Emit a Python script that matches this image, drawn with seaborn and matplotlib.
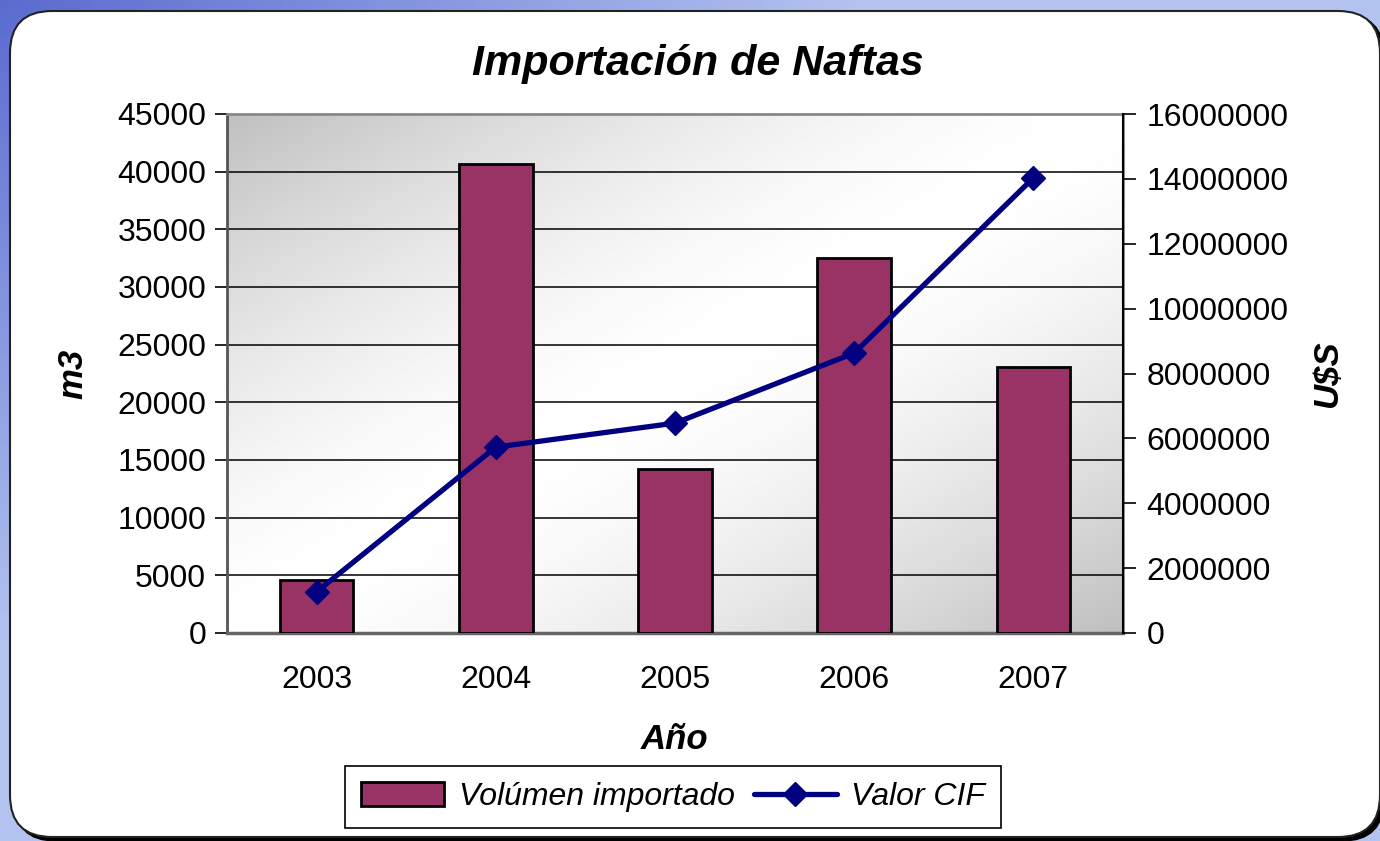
import numpy as np
import pandas as pd
import matplotlib
matplotlib.use("Agg")
import matplotlib.pyplot as plt
import seaborn as sns
from matplotlib.patches import FancyBboxPatch, Patch
from matplotlib.lines import Line2D
from matplotlib.colors import LinearSegmentedColormap
from matplotlib.ticker import FuncFormatter

years = ["2003", "2004", "2005", "2006", "2007"]
volumen = [4600, 40700, 14200, 32500, 23100]        # m3
valor_cif = [1270000, 5730000, 6470000, 8630000, 14030000]  # U$S

df = pd.DataFrame({"Año": years, "Volumen": volumen, "CIF": valor_cif})

sns.set_theme(style="white")
plt.rcParams["font.family"] = ["Liberation Sans", "DejaVu Sans"]
plt.rcParams["text.color"] = "black"
plt.rcParams["axes.labelcolor"] = "black"
plt.rcParams["xtick.color"] = "black"
plt.rcParams["ytick.color"] = "black"

W, H = 1380, 841
fig = plt.figure(figsize=(W / 100, H / 100), dpi=100)

# background: blue gradient + white rounded panel
bg = fig.add_axes([0, 0, 1, 1], zorder=0)
bg.set_xlim(0, W)
bg.set_ylim(H, 0)
bg.axis("off")
xx, yy = np.meshgrid(np.linspace(0, 1, 300), np.linspace(0, 1, 200))
t = np.clip(1.6 * xx + 1.3 * yy, 0, 1)
blue = LinearSegmentedColormap.from_list("bl", ["#5a6bd0", "#b3c3f0"])
bg.imshow(t, cmap=blue, extent=[0, W, H, 0], aspect="auto")
bg.add_patch(FancyBboxPatch((14, 14), W - 10, H - 14, boxstyle="round,pad=0,rounding_size=42",
                            facecolor="black", edgecolor="black"))
bg.add_patch(FancyBboxPatch((10, 11), W - 10, H - 15, boxstyle="round,pad=0,rounding_size=42",
                            facecolor="white", edgecolor="#222222", linewidth=1.5))

ax = fig.add_axes([227 / W, 1 - 633 / H, 896 / W, 519 / H], zorder=2)

# plot area gradient: gray corners top-left / bottom-right, white diagonal
gx, gy = np.meshgrid(np.linspace(0, 1, 300), np.linspace(1, 0, 200))
d = np.abs(gx - gy)
shade = 1 - 0.25 * d ** 1.5
ax.imshow(shade, cmap="gray", vmin=0, vmax=1, extent=[0, 1, 0, 1],
          transform=ax.transAxes, aspect="auto", zorder=0)

sns.barplot(data=df, x="Año", y="Volumen", color="#993366", edgecolor="black",
            linewidth=2, width=0.41, saturation=1, ax=ax, zorder=3)
ax.set_xlim(-0.5, 4.5)
ax.set_ylim(0, 45000)
ax.set_yticks(range(0, 45001, 5000))
ax.yaxis.grid(True, color="black", linewidth=1.1, zorder=1)
ax.set_axisbelow(True)
ax.set_xticks(np.arange(-0.5, 5, 1), minor=True)
ax.tick_params(axis="x", which="major", length=0, labelsize=23, pad=23)
ax.tick_params(axis="x", which="minor", length=9, width=1.2, color="black", direction="out")
ax.tick_params(axis="y", length=9, width=1.2, color="black", direction="out", labelsize=23, pad=6)
ax.tick_params(axis="y", left=True)
ax.set_xlabel("Año", fontsize=25, fontweight="bold", fontstyle="italic", labelpad=20)
ax.set_ylabel("m3", fontsize=25, fontweight="bold", fontstyle="italic", labelpad=20)
for s in ["top", "right"]:
    ax.spines[s].set_color("#888888")
    ax.spines[s].set_linewidth(2)
ax.spines["left"].set_color("#555555")
ax.spines["left"].set_linewidth(2)
ax.spines["bottom"].set_color("#666666")
ax.spines["bottom"].set_linewidth(2.5)

ax2 = ax.twinx()
ax2.plot(range(len(years)), df["CIF"], color="#000080", linewidth=3.8,
         marker="D", markersize=12, zorder=5)
ax2.set_ylim(0, 16000000)
ax2.set_yticks(range(0, 16000001, 2000000))
ax2.yaxis.set_major_formatter(FuncFormatter(lambda v, p: f"{int(v)}"))
ax2.tick_params(axis="y", length=9, width=1.2, color="black", direction="out", labelsize=23, pad=8)
ax2.tick_params(axis="y", right=True)
ax2.set_ylabel("U$S", fontsize=25, fontweight="bold", fontstyle="italic", labelpad=16)
for s in ["top", "left", "bottom"]:
    ax2.spines[s].set_visible(False)
ax2.spines["right"].set_color("black")
ax2.spines["right"].set_linewidth(1.5)
ax2.grid(False)

fig.text(698 / W, 1 - 64 / H, "Importación de Naftas", ha="center", va="center",
         fontsize=31, fontweight="bold", fontstyle="italic")

handles = [Patch(facecolor="#993366", edgecolor="black", linewidth=2),
           Line2D([], [], color="#000080", linewidth=3.8, marker="D", markersize=12)]
leg = fig.legend(handles, ["Volúmen importado", "Valor CIF"], loc="center",
                 bbox_to_anchor=(673 / W, 1 - 797 / H), ncol=2, fancybox=False,
                 edgecolor="black", framealpha=1, prop={"size": 23, "style": "italic"},
                 handlelength=2.6, handleheight=0.8, columnspacing=0.6, handletextpad=0.45,
                 borderpad=0.5)
leg.get_frame().set_linewidth(1.2)

fig.savefig("out.png", dpi=100)
